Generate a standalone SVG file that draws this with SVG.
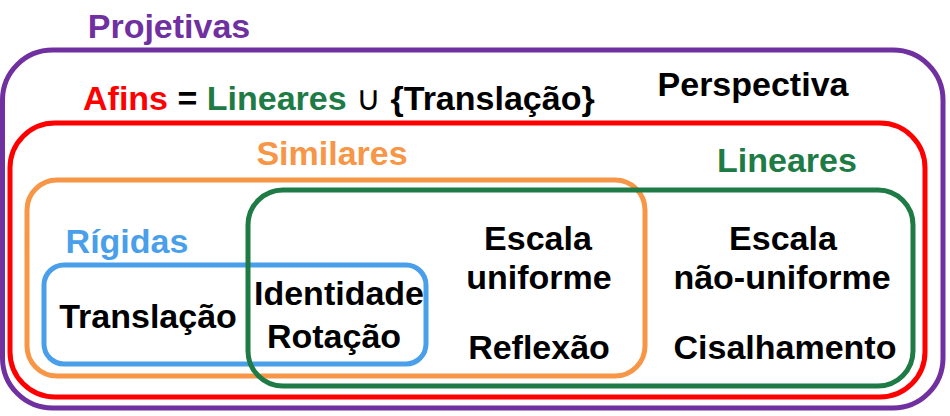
<svg xmlns="http://www.w3.org/2000/svg" width="950" height="416" viewBox="0 0 950 416">
<style>
  .box { fill: none; stroke-width: 5; }
  text { font-family: "Liberation Sans", Arial, sans-serif; font-weight: bold; font-size: 34px; text-anchor: middle; fill: #000; }
  .purple { fill: #7030A0; }
  .red { fill: #FF0000; }
  .orange { fill: #F79646; }
  .green { fill: #1E7B45; }
  .blue { fill: #4A9FEA; }
</style>
<rect width="950" height="416" fill="#fff"/>
<g id="projetivas">
  <rect class="box" x="2.5" y="50" width="940.5" height="358" rx="50" stroke="#7030A0"/>
  <text class="purple" x="169" y="38" font-size="35">Projetivas</text>
  <text x="753" y="96">Perspectiva</text>
</g>
<g id="afins">
  <rect class="box" x="10" y="123" width="915" height="274" rx="45" stroke="#FF0000"/>
  <text x="83" y="110" style="text-anchor:start"><tspan class="red">Afins</tspan> = <tspan class="green">Lineares</tspan> <tspan font-weight="normal">∪</tspan> {Translação}</text>
</g>
<g id="similares">
  <rect class="box" x="27" y="180" width="618" height="196" rx="30" stroke="#F79646"/>
  <text class="orange" x="332" y="165">Similares</text>
  <text x="538" y="250">Escala</text>
  <text x="539" y="289">uniforme</text>
  <text x="539" y="359">Reflexão</text>
</g>
<g id="rigidas">
  <rect class="box" x="44" y="265" width="382" height="99" rx="20" stroke="#4A9FEA"/>
  <text class="blue" x="127" y="253">Rígidas</text>
  <text x="148" y="328">Translação</text>
  <text x="339" y="305">Identidade</text>
  <text x="334" y="348">Rotação</text>
</g>
<g id="lineares">
  <rect class="box" x="248" y="190" width="665" height="196" rx="35" stroke="#1E7B45"/>
  <text class="green" x="787" y="172">Lineares</text>
  <text x="783" y="250">Escala</text>
  <text x="782" y="289">não-uniforme</text>
  <text x="785" y="359">Cisalhamento</text>
</g>
<g id="connectors"></g>
</svg>
